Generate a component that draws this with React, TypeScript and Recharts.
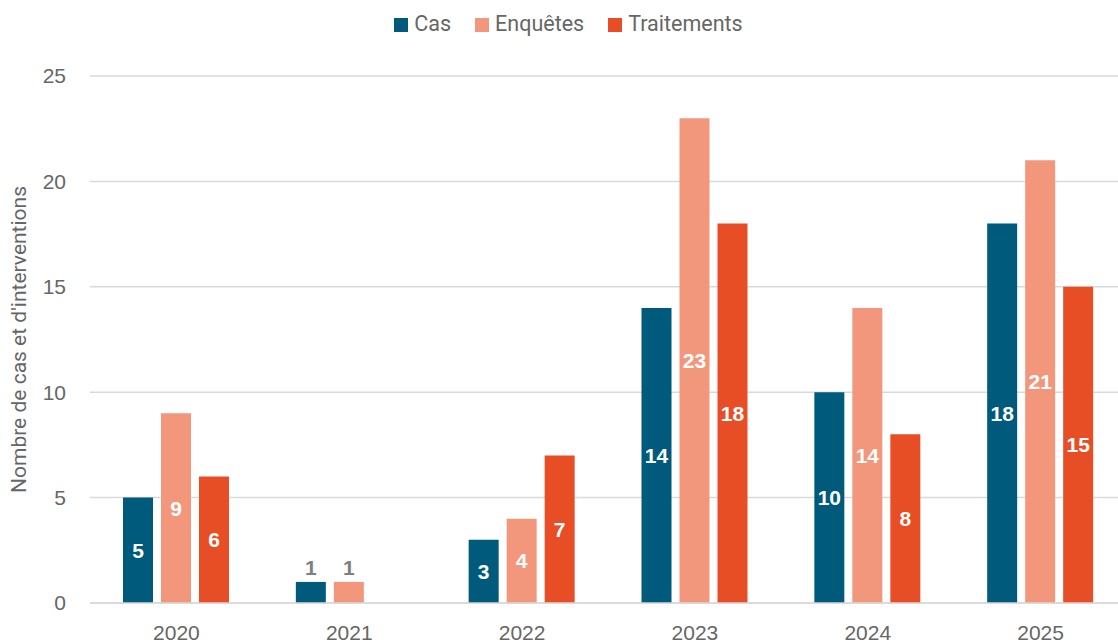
import { BarChart, Bar, XAxis, YAxis, CartesianGrid, Legend, LabelList } from 'recharts'

const years = ['2020', '2021', '2022', '2023', '2024', '2025']
const cas = [5, 1, 3, 14, 10, 18]
const enquetes = [9, 1, 4, 23, 14, 21]
const traitements = [6, 0, 7, 18, 8, 15]
const yTicks = [0, 5, 10, 15, 20, 25]

const data = years.map((year, i) => ({
    year,
    cas: cas[i],
    enquetes: enquetes[i],
    traitements: traitements[i],
}))

const tickFont = "'Liberation Sans', Arial, sans-serif"

// small bars get a grey label on top, the rest a white one inside
const renderLabel = (props: any) => {
    const { x, y, width, height, value } = props
    if (!value) return null
    const cx = Number(x) + Number(width) / 2
    if (value < 2) {
        return (
            <text x={cx} y={Number(y) - 7} textAnchor="middle" fill="#7f7f7f" fontSize={21} fontWeight="bold" fontFamily={tickFont}>
                {value}
            </text>
        )
    }
    return (
        <text x={cx} y={Number(y) + Number(height) / 2} textAnchor="middle" dominantBaseline="central" fill="#ffffff" fontSize={21} fontWeight="bold" fontFamily={tickFont}>
            {value}
        </text>
    )
}

export default function App() {
    return (
        <div style={{ position: 'absolute', left: 0, top: 0, width: 1118, height: 643, overflow: 'hidden', background: '#fff' }}>
            <BarChart
                width={1127}
                height={643}
                data={data}
                margin={{ top: 51, right: 0, left: 0, bottom: 0 }}
                barSize={30}
                barGap={8}
            >
                <CartesianGrid vertical={false} stroke="#d9d9d9" strokeWidth={1.5} />
                <Legend
                    verticalAlign="top"
                    iconType="square"
                    iconSize={14}
                    wrapperStyle={{ top: 11, left: 17, fontFamily: 'Roboto, sans-serif', fontSize: 21.5 }}
                    formatter={(v) => <span style={{ color: '#666666', marginLeft: 2, marginRight: 14 }}>{v}</span>}
                />
                <XAxis
                    dataKey="year"
                    axisLine={{ stroke: '#d9d9d9', strokeWidth: 1.5 }}
                    tickLine={false}
                    height={40}
                    tickMargin={16}
                    tick={{ fontSize: 21, fill: '#666666', fontFamily: tickFont }}
                />
                <YAxis
                    width={90}
                    domain={[0, 25]}
                    ticks={yTicks}
                    axisLine={false}
                    tickLine={false}
                    tickMargin={18}
                    tick={{ fontSize: 21, fill: '#666666', fontFamily: tickFont }}
                    label={{
                        value: "Nombre de cas et d'interventions",
                        angle: -90,
                        position: 'insideLeft',
                        dx: 14,
                        style: { textAnchor: 'middle', fill: '#666666', fontSize: 21, fontFamily: 'Roboto, sans-serif' },
                    }}
                />
                <Bar dataKey="cas" name="Cas" fill="#005a7c" isAnimationActive={false}>
                    <LabelList dataKey="cas" content={renderLabel} />
                </Bar>
                <Bar dataKey="enquetes" name="Enquêtes" fill="#f2977c" isAnimationActive={false}>
                    <LabelList dataKey="enquetes" content={renderLabel} />
                </Bar>
                <Bar dataKey="traitements" name="Traitements" fill="#e84e25" isAnimationActive={false}>
                    <LabelList dataKey="traitements" content={renderLabel} />
                </Bar>
            </BarChart>
        </div>
    )
}
